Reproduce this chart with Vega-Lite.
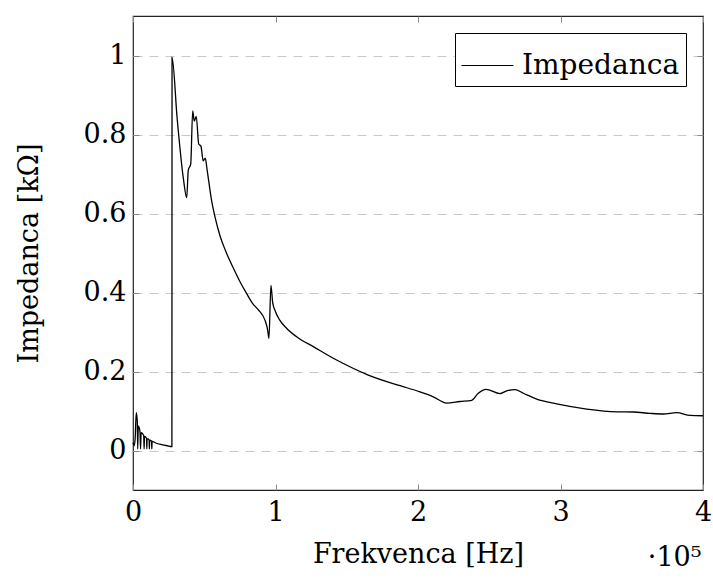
{
  "$schema": "https://vega.github.io/schema/vega-lite/v6.json",
  "width": 570,
  "height": 474,
  "autosize": {"type": "none"},
  "padding": {"left": 133, "top": 16, "right": 10, "bottom": 91},
  "background": "white",
  "config": {
    "font": "DejaVu Serif",
    "view": {"stroke": "#222", "strokeWidth": 1.2},
    "axis": {
      "labelFont": "DejaVu Serif",
      "titleFont": "DejaVu Serif",
      "labelFontSize": 27,
      "titleFontSize": 27,
      "titleFontWeight": "normal",
      "labelColor": "black",
      "titleColor": "black",
      "tickColor": "#888",
      "tickSize": -6,
      "labelFlush": false,
      "labelOverlap": false,
      "domain": false,
      "grid": false
    }
  },
  "title": {
    "text": "·10⁵",
    "orient": "bottom",
    "anchor": "end",
    "font": "DejaVu Serif",
    "fontSize": 27,
    "fontWeight": "normal",
    "color": "black",
    "offset": -22,
    "dx": -10
  },
  "data": {
    "values": [
      {"f": 0, "z": 0.02, "s": "Impedanca"},
      {"f": 800, "z": 0.012, "s": "Impedanca"},
      {"f": 1500, "z": 0.03, "s": "Impedanca"},
      {"f": 2300, "z": 0.096, "s": "Impedanca"},
      {"f": 3000, "z": 0.075, "s": "Impedanca"},
      {"f": 3300, "z": 0.004, "s": "Impedanca"},
      {"f": 3700, "z": 0.062, "s": "Impedanca"},
      {"f": 4900, "z": 0.048, "s": "Impedanca"},
      {"f": 5300, "z": 0.004, "s": "Impedanca"},
      {"f": 5700, "z": 0.045, "s": "Impedanca"},
      {"f": 7500, "z": 0.038, "s": "Impedanca"},
      {"f": 7800, "z": 0.004, "s": "Impedanca"},
      {"f": 8100, "z": 0.036, "s": "Impedanca"},
      {"f": 9500, "z": 0.031, "s": "Impedanca"},
      {"f": 9700, "z": 0.004, "s": "Impedanca"},
      {"f": 9900, "z": 0.03, "s": "Impedanca"},
      {"f": 11300, "z": 0.027, "s": "Impedanca"},
      {"f": 11500, "z": 0.004, "s": "Impedanca"},
      {"f": 11700, "z": 0.026, "s": "Impedanca"},
      {"f": 13000, "z": 0.024, "s": "Impedanca"},
      {"f": 13200, "z": 0.004, "s": "Impedanca"},
      {"f": 13400, "z": 0.023, "s": "Impedanca"},
      {"f": 16000, "z": 0.019, "s": "Impedanca"},
      {"f": 20000, "z": 0.015, "s": "Impedanca"},
      {"f": 24000, "z": 0.012, "s": "Impedanca"},
      {"f": 27300, "z": 0.01, "s": "Impedanca"},
      {"f": 27400, "z": 0.995, "s": "Impedanca"},
      {"f": 31000, "z": 0.84, "s": "Impedanca"},
      {"f": 35300, "z": 0.69, "s": "Impedanca"},
      {"f": 37700, "z": 0.64, "s": "Impedanca"},
      {"f": 38800, "z": 0.71, "s": "Impedanca"},
      {"f": 40500, "z": 0.725, "s": "Impedanca"},
      {"f": 41900, "z": 0.86, "s": "Impedanca"},
      {"f": 43000, "z": 0.834, "s": "Impedanca"},
      {"f": 44400, "z": 0.846, "s": "Impedanca"},
      {"f": 46100, "z": 0.776, "s": "Impedanca"},
      {"f": 47700, "z": 0.77, "s": "Impedanca"},
      {"f": 49300, "z": 0.733, "s": "Impedanca"},
      {"f": 50700, "z": 0.74, "s": "Impedanca"},
      {"f": 52100, "z": 0.708, "s": "Impedanca"},
      {"f": 55200, "z": 0.632, "s": "Impedanca"},
      {"f": 57500, "z": 0.592, "s": "Impedanca"},
      {"f": 61100, "z": 0.543, "s": "Impedanca"},
      {"f": 65000, "z": 0.505, "s": "Impedanca"},
      {"f": 70400, "z": 0.462, "s": "Impedanca"},
      {"f": 75000, "z": 0.428, "s": "Impedanca"},
      {"f": 79800, "z": 0.397, "s": "Impedanca"},
      {"f": 84000, "z": 0.372, "s": "Impedanca"},
      {"f": 88000, "z": 0.356, "s": "Impedanca"},
      {"f": 92600, "z": 0.33, "s": "Impedanca"},
      {"f": 94500, "z": 0.305, "s": "Impedanca"},
      {"f": 95400, "z": 0.284, "s": "Impedanca"},
      {"f": 96800, "z": 0.418, "s": "Impedanca"},
      {"f": 98000, "z": 0.375, "s": "Impedanca"},
      {"f": 99600, "z": 0.355, "s": "Impedanca"},
      {"f": 103000, "z": 0.33, "s": "Impedanca"},
      {"f": 107900, "z": 0.309, "s": "Impedanca"},
      {"f": 116000, "z": 0.285, "s": "Impedanca"},
      {"f": 126500, "z": 0.263, "s": "Impedanca"},
      {"f": 142900, "z": 0.229, "s": "Impedanca"},
      {"f": 165100, "z": 0.191, "s": "Impedanca"},
      {"f": 187400, "z": 0.164, "s": "Impedanca"},
      {"f": 200000, "z": 0.15, "s": "Impedanca"},
      {"f": 210700, "z": 0.136, "s": "Impedanca"},
      {"f": 220100, "z": 0.12, "s": "Impedanca"},
      {"f": 229500, "z": 0.124, "s": "Impedanca"},
      {"f": 237700, "z": 0.127, "s": "Impedanca"},
      {"f": 242300, "z": 0.145, "s": "Impedanca"},
      {"f": 247700, "z": 0.155, "s": "Impedanca"},
      {"f": 257500, "z": 0.144, "s": "Impedanca"},
      {"f": 262200, "z": 0.151, "s": "Impedanca"},
      {"f": 268100, "z": 0.154, "s": "Impedanca"},
      {"f": 273900, "z": 0.145, "s": "Impedanca"},
      {"f": 283300, "z": 0.13, "s": "Impedanca"},
      {"f": 297300, "z": 0.118, "s": "Impedanca"},
      {"f": 318400, "z": 0.105, "s": "Impedanca"},
      {"f": 339400, "z": 0.098, "s": "Impedanca"},
      {"f": 351100, "z": 0.0975, "s": "Impedanca"},
      {"f": 362800, "z": 0.094, "s": "Impedanca"},
      {"f": 372100, "z": 0.0924, "s": "Impedanca"},
      {"f": 381500, "z": 0.0957, "s": "Impedanca"},
      {"f": 390900, "z": 0.089, "s": "Impedanca"},
      {"f": 400000, "z": 0.088, "s": "Impedanca"}
    ]
  },
  "layer": [
    {
      "mark": {"type": "line", "strokeWidth": 1.3, "interpolate": "monotone"},
      "encoding": {
        "x": {
          "field": "f", "type": "quantitative",
          "scale": {"domain": [0, 400000], "nice": false, "zero": false},
          "axis": {
            "values": [0, 100000, 200000, 300000, 400000],
            "labelExpr": "datum.value / 100000",
            "labelPadding": 15,
            "title": "Frekvenca [Hz]",
            "titlePadding": 16
          }
        },
        "y": {
          "field": "z", "type": "quantitative",
          "scale": {"domain": [-0.1, 1.1], "nice": false, "zero": false},
          "axis": {
            "values": [0, 0.2, 0.4, 0.6, 0.8, 1],
            "labelExpr": "datum.value == 0 ? '0' : datum.value == 1 ? '1' : format(datum.value, '.1f')",
            "labelPadding": 13,
            "grid": true,
            "gridDash": [9, 7],
            "gridColor": "#c8c8c8",
            "gridWidth": 1,
            "title": "Impedanca [kΩ]",
            "titlePadding": 40
          }
        },
        "color": {
          "field": "s", "type": "nominal",
          "scale": {"range": ["black"]},
          "legend": {
            "title": null,
            "orient": "top-right",
            "offset": 17,
            "strokeColor": "black",
            "fillColor": "white",
            "padding": 6,
            "symbolType": "stroke",
            "symbolSize": 2700,
            "symbolStrokeWidth": 1,
            "labelFont": "DejaVu Serif",
            "labelFontSize": 28,
            "labelColor": "black",
            "labelLimit": 400,
            "labelOffset": 8,
            "labelExpr": "datum.label + '\u00a0\u00a0'"
          }
        }
      }
    },
    {
      "mark": {"type": "line", "strokeOpacity": 0},
      "encoding": {
        "x": {
          "field": "f", "type": "quantitative",
          "scale": {"domain": [0, 400000], "nice": false, "zero": false},
          "axis": {"orient": "top", "values": [0, 100000, 200000, 300000, 400000], "labels": false, "title": null}
        },
        "y": {
          "field": "z", "type": "quantitative",
          "scale": {"domain": [-0.1, 1.1], "nice": false, "zero": false},
          "axis": {"orient": "right", "values": [0, 0.2, 0.4, 0.6, 0.8, 1], "labels": false, "title": null}
        }
      }
    }
  ],
  "resolve": {"axis": {"x": "independent", "y": "independent"}}
}
